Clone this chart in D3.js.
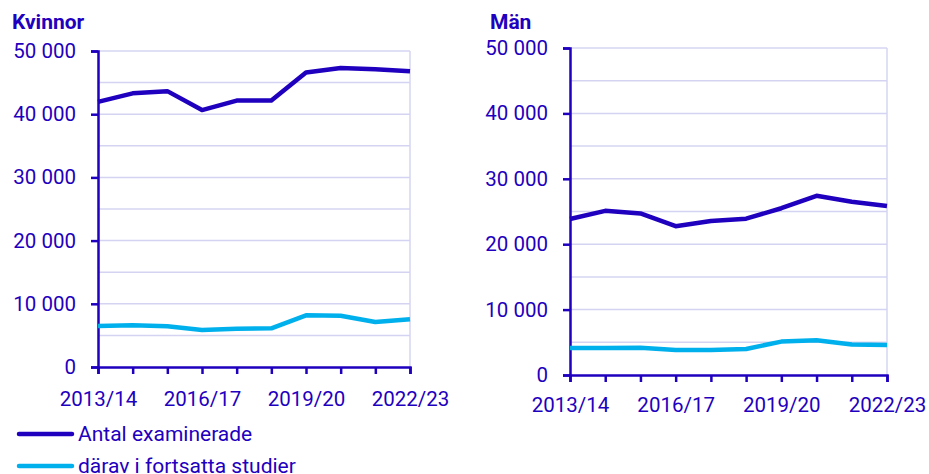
<!DOCTYPE html>
<html>
<head>
<meta charset="utf-8">
<script src="https://cdn.jsdelivr.net/npm/d3@7"></script>
<style>
  body { margin: 0; background: #fff; }
  text { font-family: Roboto, "Noto Sans", sans-serif; fill: #1e00be; }
</style>
</head>
<body>
<svg id="chart" width="929" height="474"></svg>
<script>
var years = ['2013/14', '2014/15', '2015/16', '2016/17', '2017/18', '2018/19', '2019/20', '2020/21', '2021/22', '2022/23'];
var shownYears = ['2013/14', '2016/17', '2019/20', '2022/23'];
var yTicks = [0, 10000, 20000, 30000, 40000, 50000];
var gridTicks = [5000, 10000, 15000, 20000, 25000, 30000, 35000, 40000, 45000, 50000];

var kvinnorExam = [41950, 43300, 43650, 40650, 42150, 42150, 46600, 47300, 47100, 46800];
var kvinnorStud = [6500, 6600, 6450, 5850, 6060, 6120, 8180, 8120, 7120, 7550];
var manExam = [23850, 25100, 24700, 22750, 23550, 23900, 25500, 27400, 26500, 25850];
var manStud = [4130, 4130, 4160, 3830, 3830, 3980, 5110, 5310, 4650, 4590];

var seriesNames = ['Antal examinerade', 'därav i fortsatta studier'];
var dark = '#1e00be';
var light = '#00b0ec';
var gridColor = '#d4d4f2';

var svg = d3.select('#chart');
var fmt = function (v) { return d3.format(',')(v).replace(/,/g, ' '); };

function panel(title, exam, stud, left, right, top, bottom, titleX, xPad) {
    var x = d3.scalePoint().domain(years).range([left, right]);
    var y = d3.scaleLinear().domain([0, 50000]).range([bottom, top]);
    var g = svg.append('g');

    g.append('text')
        .attr('x', titleX)
        .attr('y', 29)
        .attr('font-size', 21)
        .attr('font-weight', 'bold')
        .text(title);

    // grid
    g.selectAll('.grid')
        .data(gridTicks)
        .enter()
        .append('line')
        .attr('x1', left)
        .attr('x2', right)
        .attr('y1', function (d) { return y(d); })
        .attr('y2', function (d) { return y(d); })
        .attr('stroke', gridColor)
        .attr('stroke-width', 1.5);
    g.append('line')
        .attr('x1', right).attr('x2', right)
        .attr('y1', y(0)).attr('y2', y(50000))
        .attr('stroke', gridColor)
        .attr('stroke-width', 1.5);

    // y axis
    var yAxis = g.append('g')
        .attr('transform', 'translate(' + left + ',0)')
        .call(d3.axisLeft(y).tickValues(yTicks).tickSize(7).tickPadding(15).tickFormat(fmt));
    yAxis.select('.domain').attr('stroke', dark).attr('stroke-width', 2.5);
    yAxis.selectAll('.tick line').attr('stroke', dark).attr('stroke-width', 2.5);
    yAxis.selectAll('.tick text').attr('font-size', 20.5).attr('fill', dark).attr('font-family', 'Roboto');

    // x axis
    var xAxis = g.append('g')
        .attr('transform', 'translate(0,' + bottom + ')')
        .call(d3.axisBottom(x).tickSize(7).tickPadding(xPad).tickFormat(function (d) {
            return shownYears.indexOf(d) >= 0 ? d : '';
        }));
    xAxis.select('.domain').attr('stroke', dark).attr('stroke-width', 2.5);
    xAxis.selectAll('.tick line').attr('stroke', dark).attr('stroke-width', 2.5);
    xAxis.selectAll('.tick text').attr('font-size', 20.5).attr('fill', dark).attr('font-family', 'Roboto');

    var line = d3.line()
        .x(function (d, i) { return x(years[i]); })
        .y(function (d) { return y(d); });

    g.append('path')
        .datum(stud)
        .attr('d', line)
        .attr('fill', 'none')
        .attr('stroke', light)
        .attr('stroke-width', 4.5)
        .attr('stroke-linejoin', 'round');
    g.append('path')
        .datum(exam)
        .attr('d', line)
        .attr('fill', 'none')
        .attr('stroke', dark)
        .attr('stroke-width', 4.5)
        .attr('stroke-linejoin', 'round');
}

panel('Kvinnor', kvinnorExam, kvinnorStud, 98, 410, 51, 367, 12, 17);
panel('Män', manExam, manStud, 570, 887, 48, 375, 490, 15);

// legend
var legend = svg.selectAll('.legend')
    .data(seriesNames)
    .enter()
    .append('g')
    .attr('transform', function (d, i) { return 'translate(19,' + (434 + i * 32) + ')'; });
legend.append('line')
    .attr('x1', 0).attr('x2', 53)
    .attr('stroke', function (d, i) { return i === 0 ? dark : light; })
    .attr('stroke-width', 4.5)
    .attr('stroke-linecap', 'round');
legend.append('text')
    .attr('x', 59)
    .attr('dy', '0.35em')
    .attr('font-size', 21)
    .text(function (d) { return d; });
</script>
</body>
</html>
